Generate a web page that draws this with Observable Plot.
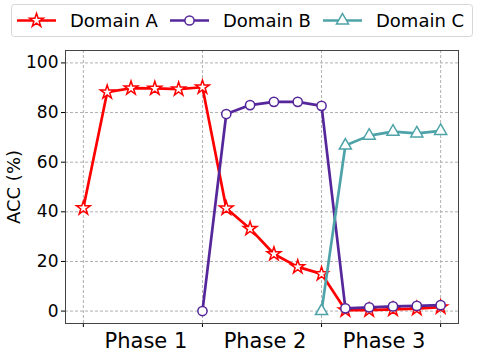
<!DOCTYPE html>
<html>
<head>
<meta charset="utf-8">
<script src="https://cdn.jsdelivr.net/npm/d3@7"></script>
<script src="https://cdn.jsdelivr.net/npm/@observablehq/plot@0.6"></script>
<style>
  html, body { margin: 0; padding: 0; background: #fff; }
  body { width: 478px; height: 359px; overflow: hidden; font-family: "DejaVu Sans", sans-serif; }
  #legend { height: 44px; display: block; }
</style>
</head>
<body>
<div id="chart"></div>
<script>
// ---- data ----
const seriesNames = ["Domain A", "Domain B", "Domain C"];
const seriesColors = ["#ff0000", "#55279a", "#4ea3a9"];
const seriesSymbols = ["star", "circle", "triangle"];
const seriesStart = [0, 5, 10];
const domainA = [41.5, 88.2, 89.8, 89.7, 89.4, 90.2, 41.4, 33.2, 23.0, 17.8, 15.0, 0.4, 0.4, 0.7, 1.0, 1.6];
const domainB = [0.0, 79.4, 83.0, 84.3, 84.3, 82.7, 1.1, 1.5, 1.9, 2.1, 2.4];
const domainC = [0.0, 66.7, 70.7, 72.3, 71.6, 72.6];
const phaseLabels = ["Phase 1", "Phase 2", "Phase 3"];
const phaseBounds = [0, 5, 10, 15];
const yTicks = [0, 20, 40, 60, 80, 100];
const yLabel = "ACC (%)";

const seriesValues = [domainA, domainB, domainC];
const rows = [];
seriesValues.forEach((vals, s) => {
  vals.forEach((v, i) => rows.push({series: seriesNames[s], step: seriesStart[s] + i, acc: v}));
});
const phaseMid = phaseLabels.map((_, i) => (phaseBounds[i] + phaseBounds[i + 1]) / 2);

const font = "DejaVu Sans";
const rBySymbol = {star: 4.3, circle: 4.6, triangle: 4.5};

// ---- legend ----
const legendSvg = d3.create("svg").attr("id", "legend").attr("width", 478).attr("height", 44);
legendSvg.append("rect").attr("x", 11.5).attr("y", 4.5).attr("width", 461).attr("height", 32)
  .attr("rx", 3).attr("fill", "#fff").attr("stroke", "#d6d6d6");
const legendX = [17, 170, 323];
seriesNames.forEach((name, i) => {
  const g = legendSvg.append("g").attr("transform", `translate(${legendX[i]},20.5)`);
  g.append("line").attr("x1", 0).attr("x2", 39).attr("stroke", seriesColors[i]).attr("stroke-width", 2.6);
  const sym = {star: d3.symbolStar, circle: d3.symbolCircle, triangle: d3.symbolTriangle}[seriesSymbols[i]];
  const r = rBySymbol[seriesSymbols[i]];
  g.append("path").attr("transform", "translate(19.5,0)")
    .attr("d", d3.symbol(sym, Math.PI * r * r)())
    .attr("fill", "#fff").attr("stroke", seriesColors[i]).attr("stroke-width", 1.5);
  g.append("text").attr("x", 53).attr("y", 6.5).attr("font-family", font).attr("font-size", 18)
    .attr("fill", "#000").text(name);
});

// ---- plot ----
const marks = [
  Plot.gridX(phaseBounds, {stroke: "#b0b0b0", strokeOpacity: 1, strokeDasharray: "3,2"}),
  Plot.gridY(yTicks, {stroke: "#b0b0b0", strokeOpacity: 1, strokeDasharray: "3,2"}),
  Plot.axisY(yTicks, {tickSize: 4, fontSize: 17, label: null, tickPadding: 3}),
  Plot.text([yLabel], {frameAnchor: "left", rotate: -90, dx: -51, fontSize: 18, fill: "#000", textAnchor: "middle", lineAnchor: "middle"}),
  Plot.axisX(phaseBounds, {tickSize: 4, tickFormat: () => "", label: null}),
  Plot.axisX(phaseMid, {tickSize: 0, tickPadding: 10, dx: 3, fontSize: 21, tickFormat: (d, i) => phaseLabels[i], label: null}),
];
seriesNames.forEach((name, s) => {
  const d = rows.filter(r => r.series === name);
  marks.push(Plot.line(d, {x: "step", y: "acc", stroke: seriesColors[s], strokeWidth: 2.7}));
  marks.push(Plot.dot(d, {x: "step", y: "acc", symbol: seriesSymbols[s], r: rBySymbol[seriesSymbols[s]], fill: "#fff", stroke: seriesColors[s], strokeWidth: 1.5}));
});
marks.push(Plot.frame({stroke: "#444", strokeWidth: 1}));

const plot = Plot.plot({
  width: 478,
  height: 315,
  marginTop: 6,
  marginBottom: 36,
  marginLeft: 65,
  marginRight: 20,
  style: {fontFamily: font, color: "#000", background: "#fff", overflow: "visible"},
  x: {domain: [-0.75, 15.75]},
  y: {domain: [-5, 105]},
  marks
});

const chart = document.getElementById("chart");
chart.appendChild(legendSvg.node());
chart.appendChild(plot);
</script>
</body>
</html>
